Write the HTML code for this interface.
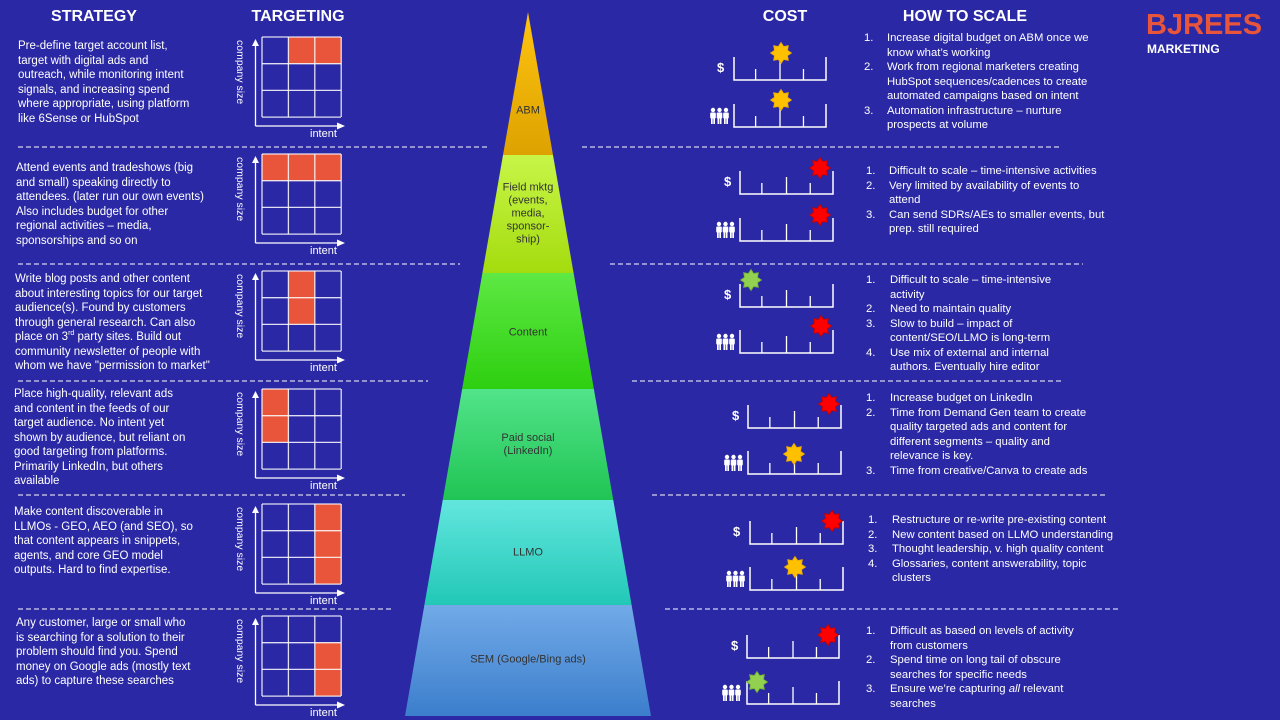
<!DOCTYPE html>
<html><head><meta charset="utf-8">
<style>
html,body{margin:0;padding:0;}
body{width:1280px;height:720px;background:#2A28A4;position:relative;overflow:hidden;font-family:"Liberation Sans Narrow","Liberation Sans",sans-serif;color:#fff;}
.t{position:absolute;font-size:11.5px;line-height:14.5px;white-space:nowrap;color:#fff;}
.h{position:absolute;font-family:"Liberation Sans",sans-serif;font-weight:bold;font-size:16px;color:#fff;transform:translateX(-50%);top:8px;white-space:nowrap;}
.n{position:absolute;font-size:11.3px;line-height:14.5px;white-space:nowrap;}
.pl{position:absolute;font-size:11px;line-height:13px;color:#333;text-align:center;transform:translate(-50%,-50%);white-space:nowrap;}
.cs{position:absolute;font-size:10.5px;transform-origin:0 0;transform:rotate(90deg);white-space:nowrap;}
.in{position:absolute;font-size:11px;white-space:nowrap;}
</style></head><body>
<svg id="g" width="1280" height="720" style="position:absolute;left:0;top:0">
<defs>
<linearGradient id="c0" x1="0" y1="0" x2="0" y2="1"><stop offset="0" stop-color="#FFC410"/><stop offset="1" stop-color="#DDA200"/></linearGradient>
<linearGradient id="c1" x1="0" y1="0" x2="0" y2="1"><stop offset="0" stop-color="#C8F548"/><stop offset="1" stop-color="#A4DC0E"/></linearGradient>
<linearGradient id="c2" x1="0" y1="0" x2="0" y2="1"><stop offset="0" stop-color="#5EE844"/><stop offset="1" stop-color="#2ECF10"/></linearGradient>
<linearGradient id="c3" x1="0" y1="0" x2="0" y2="1"><stop offset="0" stop-color="#52E48A"/><stop offset="1" stop-color="#20C454"/></linearGradient>
<linearGradient id="c4" x1="0" y1="0" x2="0" y2="1"><stop offset="0" stop-color="#62E6DE"/><stop offset="1" stop-color="#22C8B6"/></linearGradient>
<linearGradient id="c5" x1="0" y1="0" x2="0" y2="1"><stop offset="0" stop-color="#72AAE8"/><stop offset="1" stop-color="#3C7ECC"/></linearGradient>
</defs>
</svg>

<div class="h" style="left:94px">STRATEGY</div>
<div class="h" style="left:298px">TARGETING</div>
<div class="h" style="left:785px">COST</div>
<div class="h" style="left:965px">HOW TO SCALE</div>
<div style="position:absolute;left:1146px;top:9px;font-family:'Liberation Sans',sans-serif;font-weight:bold;font-size:29px;color:#E8553A;letter-spacing:0px">BJREES</div>
<div style="position:absolute;left:1147px;top:42px;font-family:'Liberation Sans',sans-serif;font-weight:bold;font-size:12px;color:#fff">MARKETING</div>

<div class="t" style="left:18px;top:39px">Pre-define target account list,<br>target with digital ads and<br>outreach, while monitoring intent<br>signals, and increasing spend<br>where appropriate, using platform<br>like 6Sense or HubSpot</div>
<div class="t" style="left:16px;top:161px">Attend events and tradeshows (big<br>and small) speaking directly to<br>attendees. (later run our own events)<br>Also includes budget for other<br>regional activities – media,<br>sponsorships and so on</div>
<div class="t" style="left:15px;top:272px">Write blog posts and other content<br>about interesting topics for our target<br>audience(s). Found by customers<br>through general research. Can also<br>place on 3<sup style="font-size:7px;line-height:0">rd</sup> party sites. Build out<br>community newsletter of people with<br>whom we have "permission to market"</div>
<div class="t" style="left:14px;top:387px">Place high-quality, relevant ads<br>and content in the feeds of our<br>target audience. No intent yet<br>shown by audience, but reliant on<br>good targeting from platforms.<br>Primarily LinkedIn, but others<br>available</div>
<div class="t" style="left:14px;top:505px">Make content discoverable in<br>LLMOs - GEO, AEO (and SEO), so<br>that content appears in snippets,<br>agents, and core GEO model<br>outputs. Hard to find expertise.</div>
<div class="t" style="left:16px;top:616px">Any customer, large or small who<br>is searching for a solution to their<br>problem should find you. Spend<br>money on Google ads (mostly text<br>ads) to capture these searches</div>

<div class="pl" style="left:528px;top:111px">ABM</div>
<div class="pl" style="left:528px;top:214px">Field mktg<br>(events,<br>media,<br>sponsor-<br>ship)</div>
<div class="pl" style="left:528px;top:333px">Content</div>
<div class="pl" style="left:528px;top:445px">Paid social<br>(LinkedIn)</div>
<div class="pl" style="left:528px;top:553px">LLMO</div>
<div class="pl" style="left:528px;top:660px">SEM (Google/Bing ads)</div>

<div id="txt"></div>

<script>
var svg=document.getElementById('g'),NS='http://www.w3.org/2000/svg';
function el(t,a){var e=document.createElementNS(NS,t);for(var k in a)e.setAttribute(k,a[k]);svg.appendChild(e);return e;}
[[147,18,490,582,1060],[264,18,460,610,1083],[381,18,428,632,1063],[495,18,405,652,1105],[609,18,392,665,1118]].forEach(function(d){
 el('line',{x1:d[1],y1:d[0],x2:d[2],y2:d[0],stroke:'#fff','stroke-width':1,'stroke-dasharray':'5,3'});
 el('line',{x1:d[3],y1:d[0],x2:d[4],y2:d[0],stroke:'#fff','stroke-width':1,'stroke-dasharray':'5,3'});
});
var ys=[12,155,273,389,500,605,716];
function hw(y){return 123*(y-12)/704;}
for(var i=0;i<6;i++){var a=ys[i],b=ys[i+1];
 el('polygon',{points:(528-hw(a))+','+a+' '+(528+hw(a))+','+a+' '+(528+hw(b))+','+b+' '+(528-hw(b))+','+b,fill:'url(#c'+i+')'});}
var grids=[[37,[[0,1],[0,2]]],[154,[[0,0],[0,1],[0,2]]],[271,[[0,1],[1,1]]],[389,[[0,0],[1,0]]],[504,[[0,2],[1,2],[2,2]]],[616,[[1,2],[2,2]]]];
var txt=document.getElementById('txt');
grids.forEach(function(g){var top=g[0],L=262,cw=26.4,ch=26.7;
 g[1].forEach(function(c){el('rect',{x:L+c[1]*cw,y:top+c[0]*ch,width:cw,height:ch,fill:'#E8553A'});});
 for(var i=0;i<4;i++){el('line',{x1:L+i*cw,y1:top,x2:L+i*cw,y2:top+80,stroke:'#fff','stroke-opacity':0.85,'stroke-width':1.3});
  el('line',{x1:L,y1:top+i*ch,x2:L+79,y2:top+i*ch,stroke:'#fff','stroke-opacity':0.85,'stroke-width':1.3});}
 var by=top+89;
 el('line',{x1:255.5,y1:by,x2:255.5,y2:top+8,stroke:'#fff','stroke-width':1.3});
 el('polygon',{points:'252,'+(top+9)+' 259,'+(top+9)+' 255.5,'+(top+2),fill:'#fff'});
 el('line',{x1:255.5,y1:by,x2:338,y2:by,stroke:'#fff','stroke-width':1.3});
 el('polygon',{points:'337,'+(by-3.5)+' 337,'+(by+3.5)+' 345,'+by,fill:'#fff'});
 txt.insertAdjacentHTML('beforeend','<div class="in" style="left:310px;top:'+(by+2)+'px">intent</div><div class="cs" style="left:246px;top:'+(top+3)+'px">company size</div>');
});
function star(cx,cy,col){var p=[],n=8;for(var i=0;i<2*n;i++){var r=i%2?7:10.5,a=Math.PI*i/n-Math.PI/2;p.push((cx+r*Math.cos(a)).toFixed(1)+','+(cy+r*Math.sin(a)).toFixed(1));}
 el('polygon',{points:p.join(' '),fill:col,stroke:col=='#FFC000'?'#E8A800':(col=='#FF0000'?'#C00000':'#70B030'),'stroke-width':0.8});}
function chart(x0,x1,base,sx,sy,col,mid){
 var w=x1-x0;el('polyline',{points:x0+','+(base-23)+' '+x0+','+base+' '+x1+','+base+' '+x1+','+(base-23),fill:'none',stroke:'#fff','stroke-width':1.5});
 [0.235,0.5,0.755].forEach(function(f,i){var x=x0+w*f;el('line',{x1:x,y1:base,x2:x,y2:base-(i==1?(mid?26:17):11),stroke:'#fff','stroke-width':1.3});});
 star(sx,sy,col);}
function people(x,y){for(var i=0;i<3;i++){var cx=x+i*6.5;
 el('circle',{cx:cx,cy:y-13,r:2.2,fill:'#fff'});
 el('rect',{x:cx-2.8,y:y-10.5,width:5.6,height:6,rx:1,fill:'#fff'});
 el('rect',{x:cx-2,y:y-5,width:1.7,height:6,fill:'#fff'});el('rect',{x:cx+0.3,y:y-5,width:1.7,height:6,fill:'#fff'});}}
var Y='#FFC000',R='#FF0000',G='#92D050';
var rows=[
 [734,826,80,781,53,Y,1, 127,781,100,Y,1, 720,710],
 [740,833,194,820,168,R,0, 241,820,215,R,0, 727,716],
 [740,833,307,751,280,G,0, 353,821,326,R,0, 727,716],
 [748,841,428,829,404,R,0, 474,794,454,Y,1, 735,724],
 [750,843,544,832,521,R,0, 590,795,567,Y,1, 736,726],
 [747,839,658,828,635,R,0, 704,757,682,G,0, 734,722]];
rows.forEach(function(r){
 chart(r[0],r[1],r[2],r[3],r[4],r[5],r[6]);
 chart(r[0],r[1],r[7],r[8],r[9],r[10],r[11]);
 txt.insertAdjacentHTML('beforeend','<div class="in" style="left:'+(r[12]-3)+'px;top:'+(r[2]-20)+'px;font-family:Liberation Sans,sans-serif;font-weight:bold;font-size:13px">$</div>');
 people(r[13]+3,r[7]-4);
});
var lists=[
 [38,864,887,[['1.','Increase digital budget on ABM once we<br>know what’s working'],['2.','Work from regional marketers creating<br>HubSpot sequences/cadences to create<br>automated campaigns based on intent'],['3.','Automation infrastructure – nurture<br>prospects at volume']]],
 [171,866,889,[['1.','Difficult to scale – time-intensive activities'],['2.','Very limited by availability of events to<br>attend'],['3.','Can send SDRs/AEs to smaller events, but<br>prep. still required']]],
 [280,866,890,[['1.','Difficult to scale – time-intensive<br>activity'],['2.','Need to maintain quality'],['3.','Slow to build – impact of<br>content/SEO/LLMO is long-term'],['4.','Use mix of external and internal<br>authors. Eventually hire editor']]],
 [398,866,890,[['1.','Increase budget on LinkedIn'],['2.','Time from Demand Gen team to create<br>quality targeted ads and content for<br>different segments – quality and<br>relevance is key.'],['3.','Time from creative/Canva to create ads']]],
 [520,868,892,[['1.','Restructure or re-write pre-existing content'],['2.','New content based on LLMO understanding'],['3.','Thought leadership, v. high quality content'],['4.','Glossaries, content answerability, topic<br>clusters']]],
 [631,866,890,[['1.','Difficult as based on levels of activity<br>from customers'],['2.','Spend time on long tail of obscure<br>searches for specific needs'],['3.','Ensure we’re capturing <i>all</i> relevant<br>searches']]]];
lists.forEach(function(l){var y=l[0]-7;
 l[3].forEach(function(it){var nl=it[1].split('<br>').length;
  txt.insertAdjacentHTML('beforeend','<div class="n" style="left:'+l[1]+'px;top:'+y+'px">'+it[0]+'</div><div class="n" style="left:'+l[2]+'px;top:'+y+'px">'+it[1]+'</div>');
  y+=nl*14.5;});
});
</script>
</body></html>
